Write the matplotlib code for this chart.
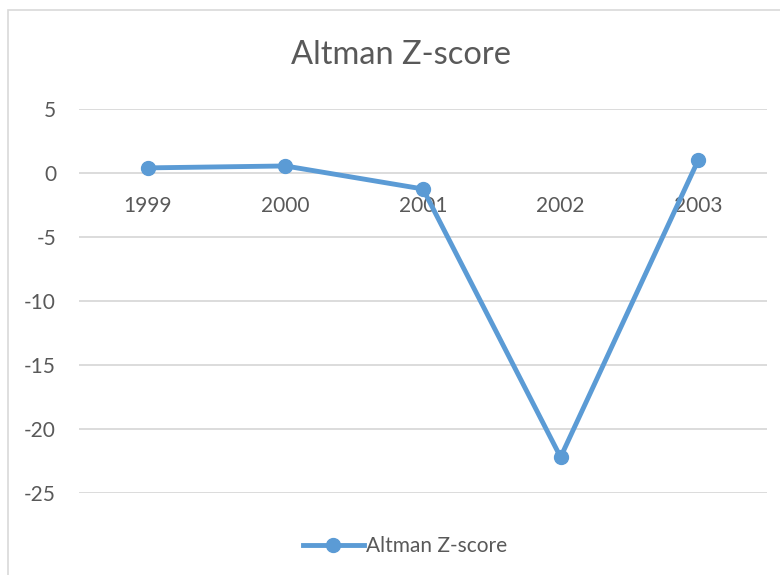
import matplotlib
matplotlib.use("Agg")
import matplotlib.pyplot as plt
from matplotlib.lines import Line2D
import matplotlib.patches as mpatches

years = ["1999", "2000", "2001", "2002", "2003"]
zscore = [0.4, 0.55, -1.25, -22.2, 1.0]
yticks = [5, 0, -5, -10, -15, -20, -25]
title = "Altman Z-score"
series_name = "Altman Z-score"

plt.rcParams['font.family'] = ['Lato', 'DejaVu Sans']
W, H = 780, 575
fig = plt.figure(figsize=(W / 100, H / 100), dpi=100)
txt = '#595959'
blue = '#5B9BD5'
grid = '#D9D9D9'

# chart border (clipped at right/bottom)
fig.patches.append(mpatches.Rectangle((8 / W, -0.1), 2.0, 1 - 10 / H + 0.1,
                                      transform=fig.transFigure, fill=False,
                                      edgecolor=grid, linewidth=1.2))

ax = fig.add_axes([79 / W, 1 - 493 / H, (767 - 79) / W, (493 - 109) / H])
x = list(range(len(years)))
ax.set_xlim(-0.5, len(years) - 0.5)
ax.set_ylim(-25, 5)
ax.set_yticks(yticks)
ax.set_yticklabels([str(v) for v in yticks])
ax.tick_params(axis='y', length=0, pad=16.5, labelsize=15, labelcolor=txt)
ax.set_xticks([])
for s in ax.spines.values():
    s.set_visible(False)
for v in yticks:
    ax.axhline(v, color=grid, linewidth=1.3, zorder=1)

for i, lab in zip(x, years):
    ax.annotate(lab, xy=(i, 0), xytext=(0, -24), textcoords='offset points',
                ha='center', va='center', fontsize=15, color=txt, zorder=2)

ax.plot(x, zscore, color=blue, linewidth=3.5, marker='o', markersize=10,
        zorder=3, clip_on=False, solid_capstyle='round')

fig.text(0.514, 1 - 55 / H, title, ha='center', va='center', fontsize=23.5, color=txt)

h = Line2D([], [], color=blue, linewidth=3.5, marker='o', markersize=10)
fig.legend([h], [series_name], loc='center', bbox_to_anchor=(405 / W, 1 - 546 / H),
           frameon=False, fontsize=15, labelcolor=txt, handlelength=2.9,
           handletextpad=0.1)

fig.savefig("out.png", dpi=100)
